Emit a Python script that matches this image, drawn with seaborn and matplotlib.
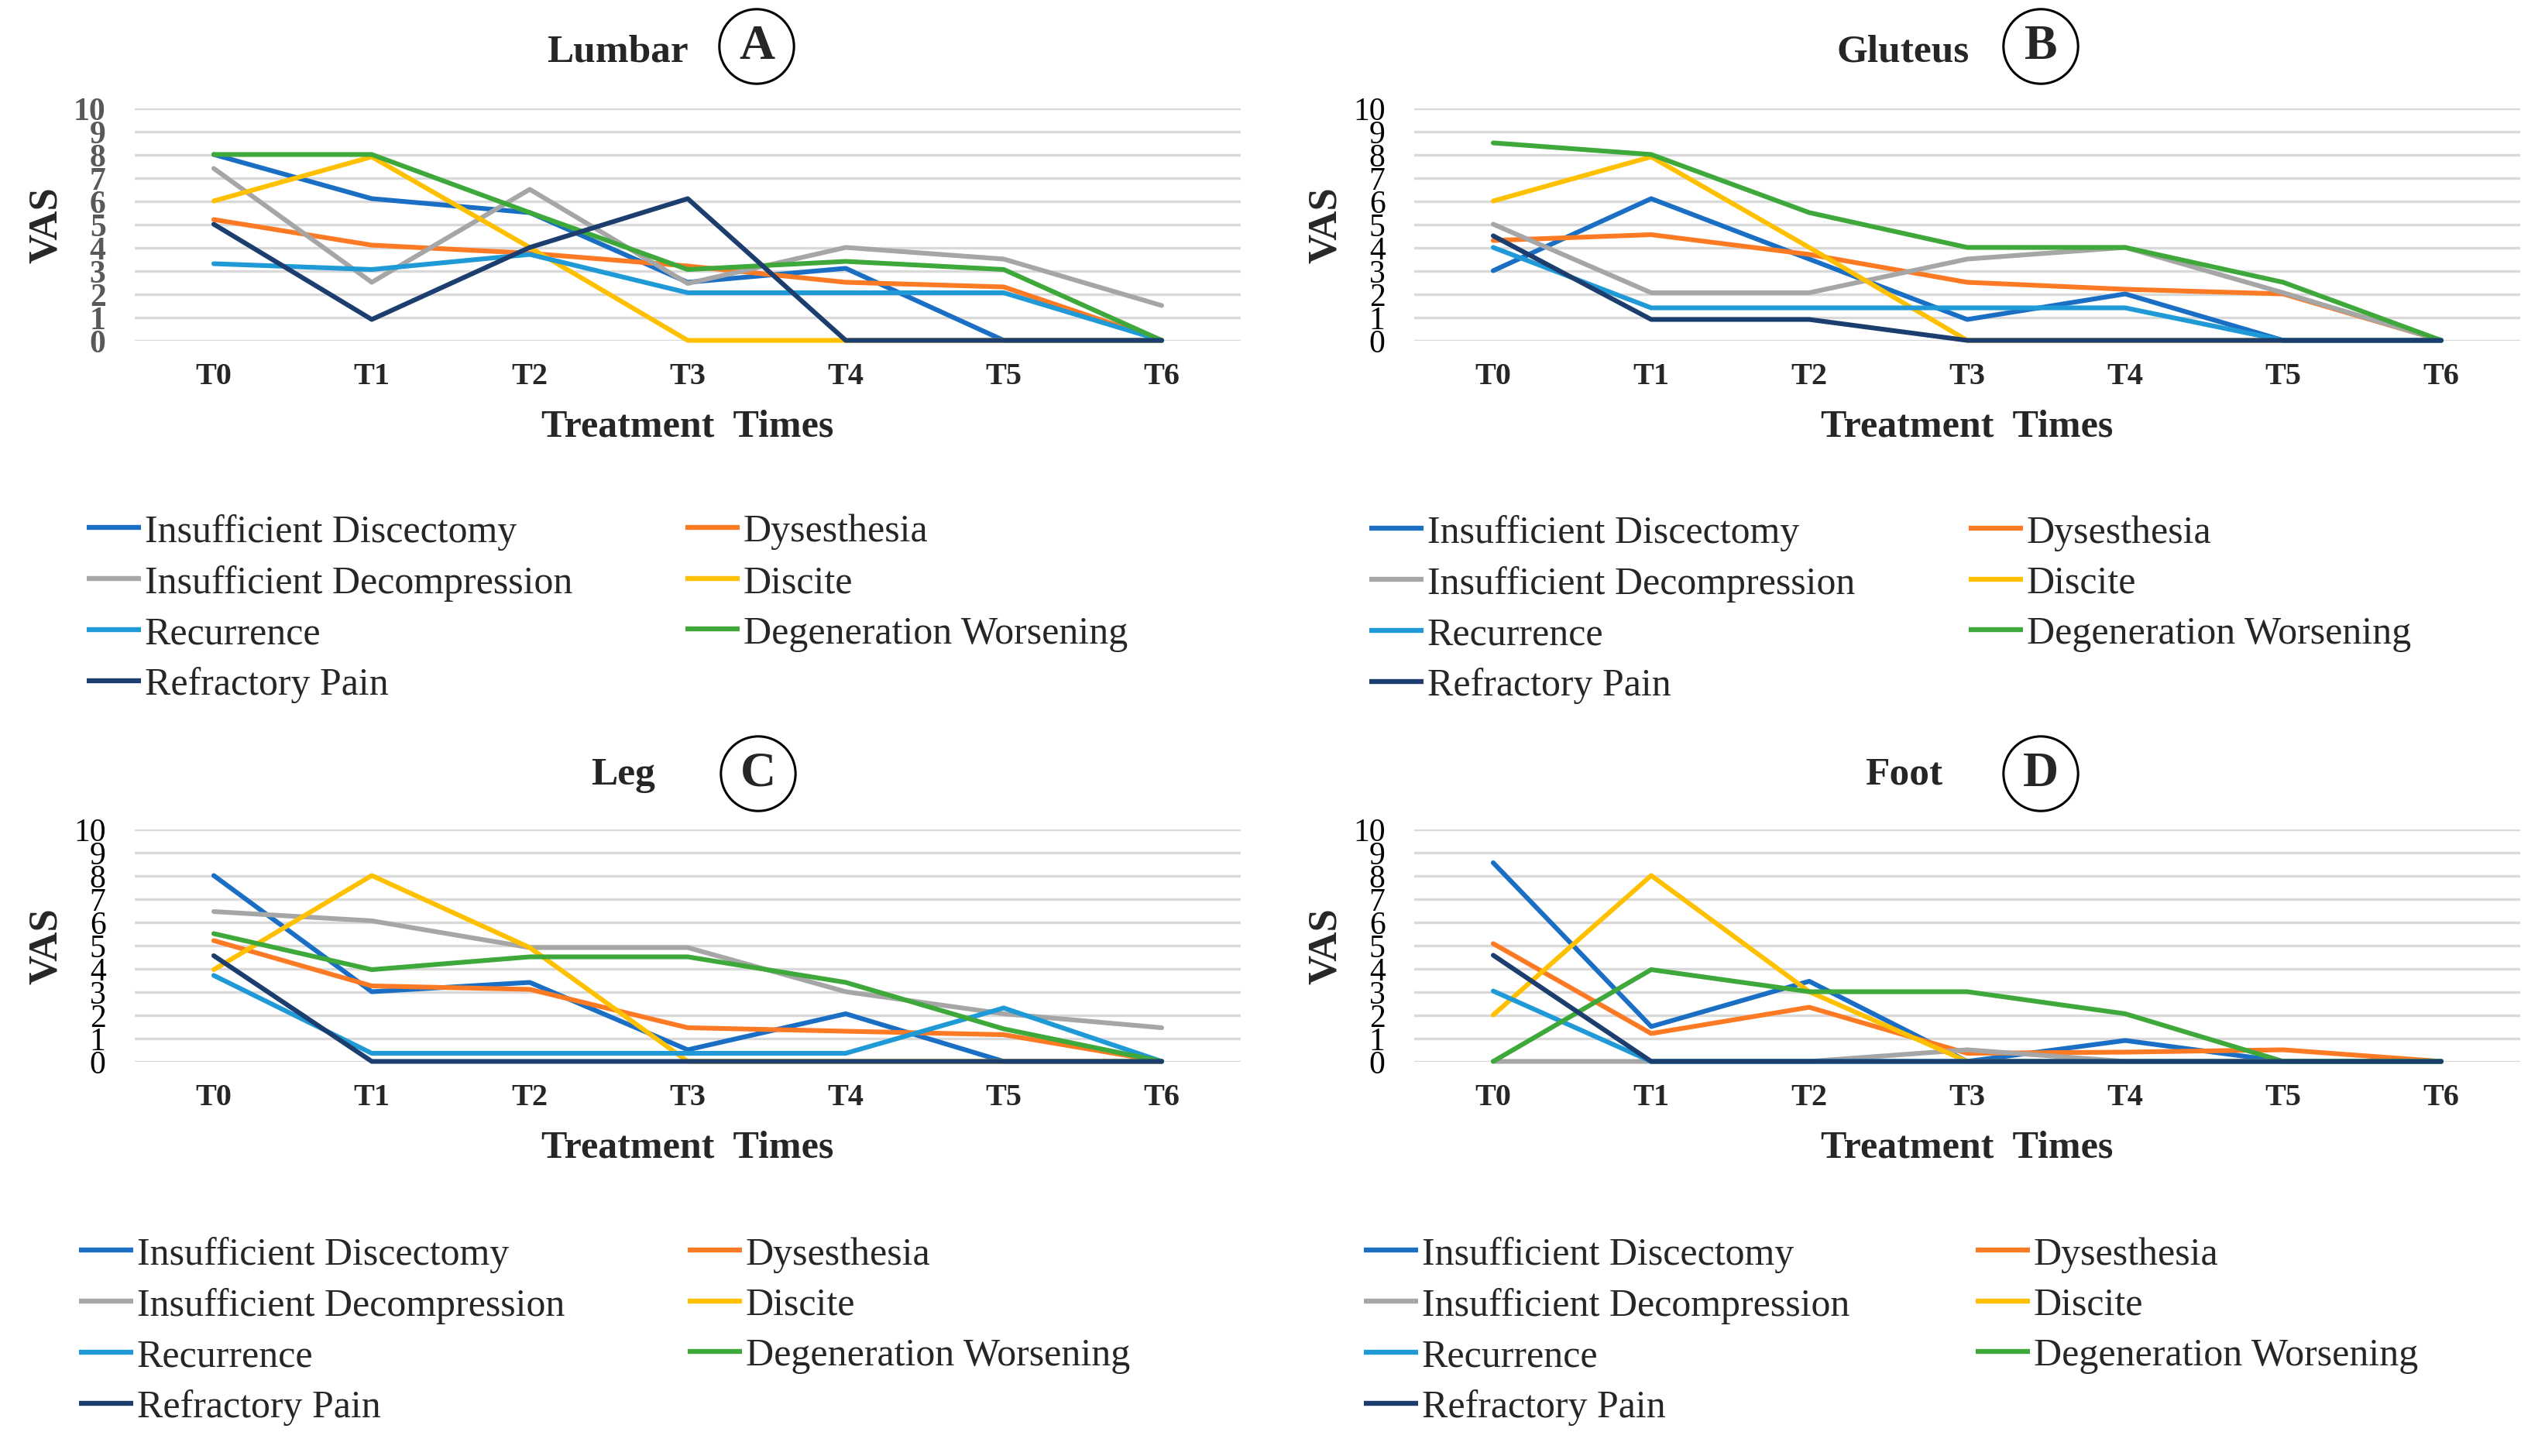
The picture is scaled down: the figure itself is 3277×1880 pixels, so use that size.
import matplotlib.pyplot as plt
from matplotlib.lines import Line2D
import pandas as pd
import seaborn as sns

times = ['T0', 'T1', 'T2', 'T3', 'T4', 'T5', 'T6']
complications = ['Insufficient Discectomy', 'Dysesthesia', 'Insufficient Decompression', 'Discite',
                 'Recurrence', 'Degeneration Worsening', 'Refractory Pain']
colors = ['#1a6fc4', '#fd7a24', '#a6a6a6', '#ffc000', '#1f9ad6', '#3ea83a', '#1c3e6e']

# Lumbar (A)
lumbar_discectomy = [8, 6.1, 5.5, 2.5, 3.1, 0, 0]
lumbar_dysesthesia = [5.2, 4.1, 3.75, 3.2, 2.5, 2.3, 0]
lumbar_decompression = [7.4, 2.5, 6.5, 2.45, 4, 3.5, 1.5]
lumbar_discite = [6, 7.9, 4, 0, 0, 0, 0]
lumbar_recurrence = [3.3, 3.05, 3.7, 2.05, 2.05, 2.05, 0]
lumbar_degeneration = [8, 8, 5.5, 3.05, 3.4, 3.05, 0]
lumbar_refractory = [5, 0.9, 4, 6.1, 0, 0, 0]

# Gluteus (B)
gluteus_discectomy = [3, 6.1, 3.5, 0.9, 2, 0, 0]
gluteus_dysesthesia = [4.3, 4.55, 3.7, 2.5, 2.2, 2.0, 0]
gluteus_decompression = [5, 2.05, 2.05, 3.5, 4, 2.05, 0]
gluteus_discite = [6, 7.9, 4, 0, 0, 0, 0]
gluteus_recurrence = [4, 1.4, 1.4, 1.4, 1.4, 0, 0]
gluteus_degeneration = [8.5, 8, 5.5, 4, 4, 2.5, 0]
gluteus_refractory = [4.5, 0.9, 0.9, 0, 0, 0, 0]

# Leg (C)
leg_discectomy = [8, 3, 3.4, 0.5, 2.05, 0, 0]
leg_dysesthesia = [5.2, 3.25, 3.1, 1.45, 1.3, 1.15, 0]
leg_decompression = [6.45, 6.05, 4.9, 4.9, 3.0, 2.05, 1.45]
leg_discite = [3.95, 8, 4.9, 0, 0, 0, 0]
leg_recurrence = [3.7, 0.35, 0.35, 0.35, 0.35, 2.3, 0]
leg_degeneration = [5.5, 3.95, 4.5, 4.5, 3.4, 1.4, 0]
leg_refractory = [4.55, 0, 0, 0, 0, 0, 0]

# Foot (D)
foot_discectomy = [8.55, 1.5, 3.45, 0, 0.9, 0, 0]
foot_dysesthesia = [5.07, 1.2, 2.33, 0.35, 0.4, 0.5, 0]
foot_decompression = [0, 0, 0, 0.5, 0, 0, 0]
foot_discite = [2, 8, 3, 0, 0, 0, 0]
foot_recurrence = [3.03, 0, 0, 0, 0, 0, 0]
foot_degeneration = [0, 3.95, 3, 3, 2.05, 0, 0]
foot_refractory = [4.57, 0, 0, 0, 0, 0, 0]

panels = [
    ('Lumbar', 'A', [lumbar_discectomy, lumbar_dysesthesia, lumbar_decompression, lumbar_discite,
                     lumbar_recurrence, lumbar_degeneration, lumbar_refractory]),
    ('Gluteus', 'B', [gluteus_discectomy, gluteus_dysesthesia, gluteus_decompression, gluteus_discite,
                      gluteus_recurrence, gluteus_degeneration, gluteus_refractory]),
    ('Leg', 'C', [leg_discectomy, leg_dysesthesia, leg_decompression, leg_discite,
                  leg_recurrence, leg_degeneration, leg_refractory]),
    ('Foot', 'D', [foot_discectomy, foot_dysesthesia, foot_decompression, foot_discite,
                   foot_recurrence, foot_degeneration, foot_refractory]),
]

# pixel layout: axes (left, top), title (x, baseline), circle (x, y), legend (col1 x, col2 x, first row y)
W, H = 3277, 1881
layout = {
    'A': dict(ax=(174, 140.5), title=(797, 80), circle=(977, 61), legend=(112, 885, 687), ycolor='#595959'),
    'B': dict(ax=(1826, 140.5), title=(2457, 80), circle=(2635, 61), legend=(1768, 2542, 688), ycolor='black'),
    'C': dict(ax=(174, 1071.5), title=(805, 1013), circle=(979, 1000), legend=(102, 888, 1620), ycolor='black'),
    'D': dict(ax=(1826, 1071.5), title=(2458, 1013), circle=(2635, 1000), legend=(1761, 2551, 1620), ycolor='black'),
}
AX_W, AX_H = 1428, 300
HALF_ROW = 23


def long_table(series):
    rows = []
    for name, vals in zip(complications, series):
        for t, v in zip(times, vals):
            rows.append({'Time': t, 'Complication': name, 'VAS': v})
    return pd.DataFrame(rows)


sns.set_style('white')
plt.rcParams['font.family'] = ['Liberation Serif', 'DejaVu Serif']

fig = plt.figure(figsize=(32.77, 18.81), dpi=100)
palette = dict(zip(complications, colors))
leg_font = {'family': 'Liberation Serif', 'size': 36}

for title, letter, series in panels:
    lay = layout[letter]
    left, top = lay['ax']
    ax = fig.add_axes([left / W, 1 - (top + AX_H) / H, AX_W / W, AX_H / H])

    df = long_table(series)
    sns.lineplot(data=df, x='Time', y='VAS', hue='Complication', hue_order=complications,
                 palette=palette, linewidth=4.4, errorbar=None, sort=False, legend=False, ax=ax)
    for line in ax.get_lines():
        line.set_clip_on(False)
        line.set_solid_joinstyle('round')

    ax.set_xlim(-0.5, 6.5)
    ax.set_ylim(0, 10)
    ax.set_yticks(range(0, 11))
    ax.yaxis.grid(True, color='#d9d9d9', linewidth=2.4)
    ax.xaxis.grid(False)
    ax.set_axisbelow(True)
    for s in ax.spines.values():
        s.set_visible(False)

    ax.tick_params(axis='x', length=0, pad=20, labelsize=29)
    ax.tick_params(axis='y', length=0, pad=27, labelsize=30, labelcolor=lay['ycolor'])
    for lab in ax.get_xticklabels():
        lab.set_fontweight('bold')
    if letter == 'A':
        for lab in ax.get_yticklabels():
            lab.set_fontweight('bold')

    ax.set_xlabel('Treatment  Times', fontsize=36, fontweight='bold')
    ax.xaxis.set_label_coords(0.5, -0.37)
    ax.xaxis.label.set_va('center')
    ax.set_ylabel('VAS', fontsize=38, fontweight='bold')
    ax.yaxis.set_label_coords(-0.08, 0.5)
    ax.yaxis.label.set_va('center')

    tx, ty = lay['title']
    fig.text(tx / W, 1 - ty / H, title, fontsize=37, fontweight='bold', ha='center', va='baseline')
    cx, cy = lay['circle']
    fig.text(cx / W, 1 - cy / H, letter, fontsize=46, fontweight='bold', ha='center', va='center',
             bbox=dict(boxstyle='circle,pad=0.3', fc='white', ec='black', lw=2.2))

    handles = [Line2D([], [], color=c, linewidth=4.6, solid_capstyle='butt') for c in colors]
    c1x, c2x, ry = lay['legend']
    col1 = [0, 2, 4, 6]
    col2 = [1, 3, 5]
    for cx_leg, idx in ((c1x, col1), (c2x, col2)):
        fig.legend([handles[i] for i in idx], [complications[i] for i in idx],
                   loc='upper left', bbox_to_anchor=(cx_leg / W, 1 - (ry - HALF_ROW) / H),
                   frameon=False, prop=leg_font, handlelength=1.4, handletextpad=0.1,
                   labelspacing=0.38, borderpad=0, borderaxespad=0)

fig.savefig('out.png', dpi=100)
